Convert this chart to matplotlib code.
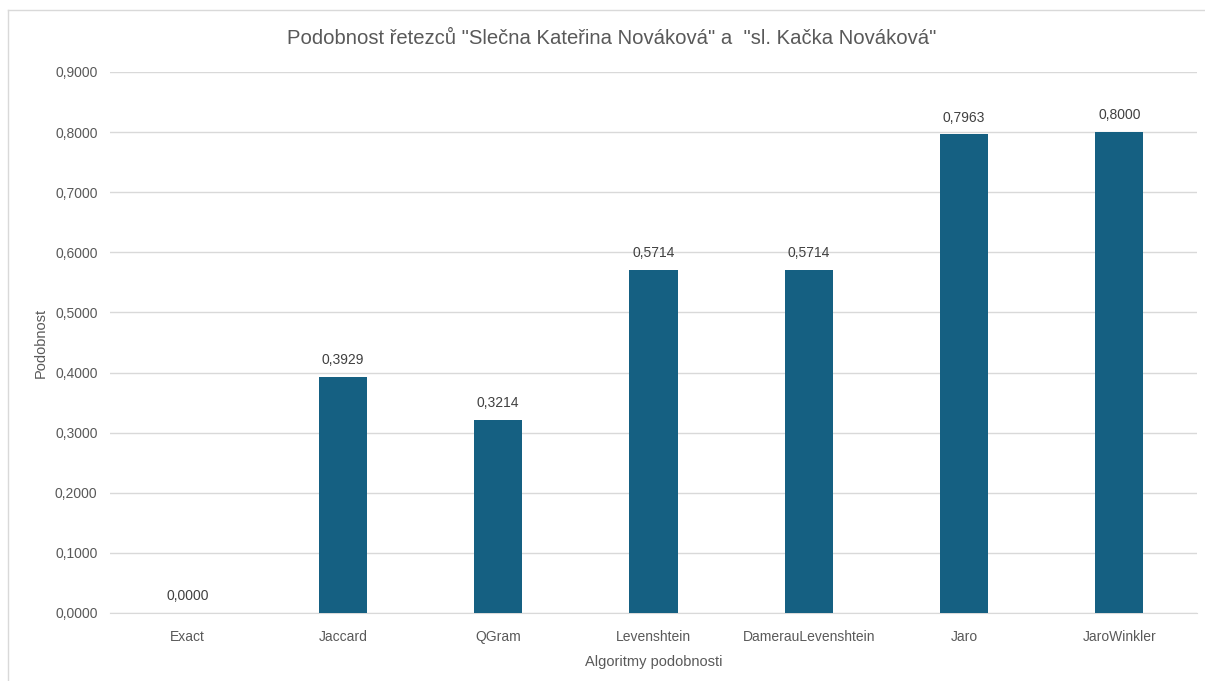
import matplotlib
matplotlib.use("Agg")
import matplotlib.pyplot as plt
from matplotlib.lines import Line2D

# Data
algorithms = ["Exact", "Jaccard", "QGram", "Levenshtein",
              "DamerauLevenshtein", "Jaro", "JaroWinkler"]
similarity = [0.0000, 0.3929, 0.3214, 0.5714, 0.5714, 0.7963, 0.8000]
y_ticks = [0.0, 0.1, 0.2, 0.3, 0.4, 0.5, 0.6, 0.7, 0.8, 0.9]

title = 'Podobnost řetezců "Slečna Kateřina Nováková" a  "sl. Kačka Nováková"'

bar_color = "#156082"
text_color = "#595959"
grid_color = "#d9d9d9"

plt.rcParams["font.family"] = ["Liberation Sans", "DejaVu Sans"]

fig = plt.figure(figsize=(12.05, 6.81), dpi=100)
ax = fig.add_axes([0.0913, 0.0999, 0.9021, 0.7944])

x = range(len(algorithms))
bars = ax.bar(x, similarity, width=0.31, color=bar_color, zorder=3)

for rect, val in zip(bars, similarity):
    ax.annotate(f"{val:.4f}".replace(".", ","),
                (rect.get_x() + rect.get_width() / 2, rect.get_height()),
                xytext=(0, 7), textcoords="offset points",
                ha="center", va="bottom", fontsize=10, color="#404040")

ax.set_xlim(-0.5, len(algorithms) - 0.5)
ax.set_ylim(0, 0.9)
ax.set_yticks(y_ticks)
ax.set_yticklabels([f"{t:.4f}".replace(".", ",") for t in y_ticks])
ax.set_xticks(list(x))
ax.set_xticklabels(algorithms)

ax.grid(axis="y", color=grid_color, linewidth=1, zorder=0)
for side in ["top", "right", "left"]:
    ax.spines[side].set_visible(False)
ax.spines["bottom"].set_color(grid_color)
ax.tick_params(axis="both", length=0, labelsize=10, colors=text_color)
ax.tick_params(axis="y", pad=9)
ax.tick_params(axis="x", pad=12)

ax.set_xlabel("Algoritmy podobnosti", fontsize=10.5, color=text_color, labelpad=8)
ax.set_ylabel("Podobnost", fontsize=10.5, color=text_color, labelpad=5)

fig.text(0.508, 0.944, title, ha="center", va="center",
         fontsize=14.6, color=text_color)

# light frame around the chart (left and top edges visible)
fig.add_artist(Line2D([0.0066, 0.0066], [0, 0.985], transform=fig.transFigure,
                      color=grid_color, linewidth=1))
fig.add_artist(Line2D([0.0066, 1], [0.985, 0.985], transform=fig.transFigure,
                      color=grid_color, linewidth=1))

fig.savefig("out.png", dpi=100)
